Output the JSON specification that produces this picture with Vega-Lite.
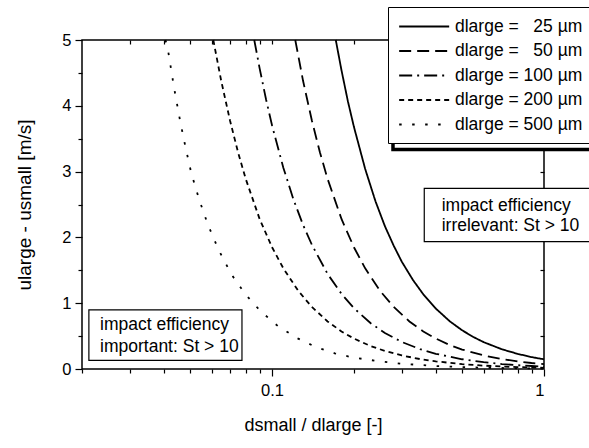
{
  "$schema": "https://vega.github.io/schema/vega-lite/v6.json",
  "width": 462,
  "height": 329,
  "autosize": {"type": "none"},
  "padding": {"left": 82, "top": 40, "right": 45, "bottom": 79},
  "background": "white",
  "config": {
    "font": "Liberation Sans",
    "view": {"stroke": "black", "strokeWidth": 1.5},
    "axis": {
      "grid": false,
      "domain": false,
      "tickColor": "black",
      "tickWidth": 1.2,
      "labelColor": "black",
      "titleColor": "black",
      "labelFont": "Liberation Sans",
      "titleFont": "Liberation Sans",
      "labelFontSize": 16.5,
      "titleFontSize": 18,
      "titleFontWeight": "normal"
    },
    "text": {"font": "Liberation Sans"}
  },
  "datasets": {
    "curves": [
      {"series": "dlarge = \u200725 µm", "x": 0.1715, "u": 5.0},
      {"series": "dlarge = \u200725 µm", "x": 0.18, "u": 4.54},
      {"series": "dlarge = \u200725 µm", "x": 0.19, "u": 4.07},
      {"series": "dlarge = \u200725 µm", "x": 0.2, "u": 3.68},
      {"series": "dlarge = \u200725 µm", "x": 0.22, "u": 3.04},
      {"series": "dlarge = \u200725 µm", "x": 0.24, "u": 2.55},
      {"series": "dlarge = \u200725 µm", "x": 0.26, "u": 2.17},
      {"series": "dlarge = \u200725 µm", "x": 0.28, "u": 1.875},
      {"series": "dlarge = \u200725 µm", "x": 0.3, "u": 1.63},
      {"series": "dlarge = \u200725 µm", "x": 0.33, "u": 1.35},
      {"series": "dlarge = \u200725 µm", "x": 0.36, "u": 1.134},
      {"series": "dlarge = \u200725 µm", "x": 0.4, "u": 0.919},
      {"series": "dlarge = \u200725 µm", "x": 0.45, "u": 0.726},
      {"series": "dlarge = \u200725 µm", "x": 0.5, "u": 0.588},
      {"series": "dlarge = \u200725 µm", "x": 0.55, "u": 0.486},
      {"series": "dlarge = \u200725 µm", "x": 0.6, "u": 0.408},
      {"series": "dlarge = \u200725 µm", "x": 0.7, "u": 0.3},
      {"series": "dlarge = \u200725 µm", "x": 0.8, "u": 0.23},
      {"series": "dlarge = \u200725 µm", "x": 0.9, "u": 0.181},
      {"series": "dlarge = \u200725 µm", "x": 1.0, "u": 0.147},

      {"series": "dlarge = \u200750 µm", "x": 0.1217, "u": 5.0},
      {"series": "dlarge = \u200750 µm", "x": 0.13, "u": 4.38},
      {"series": "dlarge = \u200750 µm", "x": 0.14, "u": 3.78},
      {"series": "dlarge = \u200750 µm", "x": 0.15, "u": 3.29},
      {"series": "dlarge = \u200750 µm", "x": 0.16, "u": 2.89},
      {"series": "dlarge = \u200750 µm", "x": 0.18, "u": 2.28},
      {"series": "dlarge = \u200750 µm", "x": 0.2, "u": 1.85},
      {"series": "dlarge = \u200750 µm", "x": 0.22, "u": 1.53},
      {"series": "dlarge = \u200750 µm", "x": 0.25, "u": 1.184},
      {"series": "dlarge = \u200750 µm", "x": 0.28, "u": 0.944},
      {"series": "dlarge = \u200750 µm", "x": 0.32, "u": 0.723},
      {"series": "dlarge = \u200750 µm", "x": 0.36, "u": 0.571},
      {"series": "dlarge = \u200750 µm", "x": 0.4, "u": 0.4625},
      {"series": "dlarge = \u200750 µm", "x": 0.45, "u": 0.365},
      {"series": "dlarge = \u200750 µm", "x": 0.5, "u": 0.296},
      {"series": "dlarge = \u200750 µm", "x": 0.6, "u": 0.206},
      {"series": "dlarge = \u200750 µm", "x": 0.7, "u": 0.151},
      {"series": "dlarge = \u200750 µm", "x": 0.8, "u": 0.116},
      {"series": "dlarge = \u200750 µm", "x": 0.9, "u": 0.091},
      {"series": "dlarge = \u200750 µm", "x": 1.0, "u": 0.074},

      {"series": "dlarge = 100 µm", "x": 0.086, "u": 5.0},
      {"series": "dlarge = 100 µm", "x": 0.09, "u": 4.57},
      {"series": "dlarge = 100 µm", "x": 0.095, "u": 4.1},
      {"series": "dlarge = 100 µm", "x": 0.1, "u": 3.7},
      {"series": "dlarge = 100 µm", "x": 0.11, "u": 3.06},
      {"series": "dlarge = 100 µm", "x": 0.12, "u": 2.57},
      {"series": "dlarge = 100 µm", "x": 0.13, "u": 2.19},
      {"series": "dlarge = 100 µm", "x": 0.14, "u": 1.89},
      {"series": "dlarge = 100 µm", "x": 0.16, "u": 1.445},
      {"series": "dlarge = 100 µm", "x": 0.18, "u": 1.142},
      {"series": "dlarge = 100 µm", "x": 0.2, "u": 0.925},
      {"series": "dlarge = 100 µm", "x": 0.23, "u": 0.699},
      {"series": "dlarge = 100 µm", "x": 0.26, "u": 0.547},
      {"series": "dlarge = 100 µm", "x": 0.3, "u": 0.411},
      {"series": "dlarge = 100 µm", "x": 0.35, "u": 0.302},
      {"series": "dlarge = 100 µm", "x": 0.4, "u": 0.231},
      {"series": "dlarge = 100 µm", "x": 0.5, "u": 0.148},
      {"series": "dlarge = 100 µm", "x": 0.6, "u": 0.103},
      {"series": "dlarge = 100 µm", "x": 0.7, "u": 0.0755},
      {"series": "dlarge = 100 µm", "x": 0.8, "u": 0.0578},
      {"series": "dlarge = 100 µm", "x": 0.9, "u": 0.0457},
      {"series": "dlarge = 100 µm", "x": 1.0, "u": 0.037},

      {"series": "dlarge = 200 µm", "x": 0.0608, "u": 5.0},
      {"series": "dlarge = 200 µm", "x": 0.065, "u": 4.38},
      {"series": "dlarge = 200 µm", "x": 0.07, "u": 3.78},
      {"series": "dlarge = 200 µm", "x": 0.075, "u": 3.29},
      {"series": "dlarge = 200 µm", "x": 0.08, "u": 2.89},
      {"series": "dlarge = 200 µm", "x": 0.09, "u": 2.28},
      {"series": "dlarge = 200 µm", "x": 0.1, "u": 1.85},
      {"series": "dlarge = 200 µm", "x": 0.11, "u": 1.53},
      {"series": "dlarge = 200 µm", "x": 0.125, "u": 1.184},
      {"series": "dlarge = 200 µm", "x": 0.14, "u": 0.944},
      {"series": "dlarge = 200 µm", "x": 0.16, "u": 0.723},
      {"series": "dlarge = 200 µm", "x": 0.18, "u": 0.571},
      {"series": "dlarge = 200 µm", "x": 0.2, "u": 0.4625},
      {"series": "dlarge = 200 µm", "x": 0.23, "u": 0.35},
      {"series": "dlarge = 200 µm", "x": 0.26, "u": 0.274},
      {"series": "dlarge = 200 µm", "x": 0.3, "u": 0.206},
      {"series": "dlarge = 200 µm", "x": 0.35, "u": 0.151},
      {"series": "dlarge = 200 µm", "x": 0.4, "u": 0.116},
      {"series": "dlarge = 200 µm", "x": 0.5, "u": 0.074},
      {"series": "dlarge = 200 µm", "x": 0.6, "u": 0.051},
      {"series": "dlarge = 200 µm", "x": 0.7, "u": 0.038},
      {"series": "dlarge = 200 µm", "x": 0.8, "u": 0.029},
      {"series": "dlarge = 200 µm", "x": 0.9, "u": 0.023},
      {"series": "dlarge = 200 µm", "x": 1.0, "u": 0.0185},

      {"series": "dlarge = 500 µm", "x": 0.0405, "u": 5.0},
      {"series": "dlarge = 500 µm", "x": 0.0412, "u": 4.91},
      {"series": "dlarge = 500 µm", "x": 0.0435, "u": 4.3},
      {"series": "dlarge = 500 µm", "x": 0.046, "u": 3.75},
      {"series": "dlarge = 500 µm", "x": 0.048, "u": 3.38},
      {"series": "dlarge = 500 µm", "x": 0.0505, "u": 2.97},
      {"series": "dlarge = 500 µm", "x": 0.054, "u": 2.57},
      {"series": "dlarge = 500 µm", "x": 0.058, "u": 2.2},
      {"series": "dlarge = 500 µm", "x": 0.0636, "u": 1.81},
      {"series": "dlarge = 500 µm", "x": 0.0708, "u": 1.44},
      {"series": "dlarge = 500 µm", "x": 0.08, "u": 1.13},
      {"series": "dlarge = 500 µm", "x": 0.0911, "u": 0.871},
      {"series": "dlarge = 500 µm", "x": 0.105, "u": 0.653},
      {"series": "dlarge = 500 µm", "x": 0.124, "u": 0.466},
      {"series": "dlarge = 500 µm", "x": 0.145, "u": 0.334},
      {"series": "dlarge = 500 µm", "x": 0.17, "u": 0.238},
      {"series": "dlarge = 500 µm", "x": 0.2, "u": 0.172},
      {"series": "dlarge = 500 µm", "x": 0.25, "u": 0.115},
      {"series": "dlarge = 500 µm", "x": 0.3, "u": 0.08},
      {"series": "dlarge = 500 µm", "x": 0.4, "u": 0.045},
      {"series": "dlarge = 500 µm", "x": 0.5, "u": 0.029},
      {"series": "dlarge = 500 µm", "x": 0.6, "u": 0.02},
      {"series": "dlarge = 500 µm", "x": 0.8, "u": 0.0113},
      {"series": "dlarge = 500 µm", "x": 1.0, "u": 0.0072}
    ]
  },
  "layer": [
    {
      "data": {"values": [{}]},
      "mark": {"type": "rect", "fill": "white", "stroke": "black", "strokeWidth": 3.5},
      "encoding": {
        "x": {"datum": 0.2784, "type": "quantitative", "axis": null},
        "x2": {"datum": 2.5},
        "y": {"datum": 5.3, "type": "quantitative", "axis": null},
        "y2": {"datum": 3.336}
      }
    },
    {
      "data": {"name": "curves"},
      "mark": {"type": "line", "color": "black", "strokeWidth": 1.8},
      "encoding": {
        "x": {
          "field": "x",
          "type": "quantitative",
          "scale": {"type": "log", "domain": [0.02, 1], "nice": false},
          "axis": {
            "orient": "bottom",
            "values": [0.1, 1],
            "format": "~g",
            "tickSize": 7,
            "labelPadding": 6,
            "title": "dsmall / dlarge  [-]",
            "titlePadding": 18
          }
        },
        "y": {
          "field": "u",
          "type": "quantitative",
          "scale": {"domain": [0, 5], "nice": false, "zero": false},
          "axis": {
            "orient": "left",
            "values": [0, 1, 2, 3, 4, 5],
            "format": "d",
            "tickSize": 7,
            "labelPadding": 4,
            "title": "ularge - usmall  [m/s]",
            "titleFontSize": 19,
            "titlePadding": 27
          }
        },
        "strokeDash": {
          "field": "series",
          "type": "nominal",
          "scale": {
            "domain": ["dlarge = \u200725 µm", "dlarge = \u200750 µm", "dlarge = 100 µm", "dlarge = 200 µm", "dlarge = 500 µm"],
            "range": [[1, 0], [12, 6], [13, 5, 2, 5], [5, 4], [2.5, 10.5]]
          },
          "legend": {
            "title": null,
            "orient": "none",
            "legendX": 306,
            "legendY": -33,
            "padding": 10,
            "fillColor": "white",
            "strokeColor": "black",
            "symbolType": "M-1,0H5",
            "symbolSize": 278,
            "symbolStrokeWidth": 1.8,
            "symbolStrokeColor": "black",
            "labelFontSize": 17.5,
            "labelColor": "black",
            "labelFont": "Liberation Sans",
            "labelOffset": 38,
            "labelLimit": 300,
            "rowPadding": 6.5
          }
        }
      }
    },
    {
      "data": {"name": "curves"},
      "mark": {"type": "point", "opacity": 0},
      "encoding": {
        "x": {
          "field": "x",
          "type": "quantitative",
          "axis": {
            "orient": "bottom",
            "values": [0.02, 0.03, 0.04, 0.05, 0.06, 0.07, 0.08, 0.09, 0.2, 0.3, 0.4, 0.5, 0.6, 0.7, 0.8, 0.9],
            "tickSize": 4,
            "labels": false,
            "title": null
          }
        },
        "y": {
          "field": "u",
          "type": "quantitative",
          "axis": {
            "orient": "left",
            "values": [0.5, 1.5, 2.5, 3.5, 4.5],
            "tickSize": 4,
            "labels": false,
            "title": null
          }
        }
      }
    },
    {
      "data": {"name": "curves"},
      "mark": {"type": "point", "opacity": 0},
      "encoding": {
        "x": {
          "field": "x",
          "type": "quantitative",
          "axis": {
            "orient": "top",
            "values": [0.03, 0.04, 0.05, 0.06, 0.07, 0.08, 0.09, 0.1, 0.2, 0.3, 0.4, 0.5, 0.6, 0.7, 0.8, 0.9],
            "tickSize": -4,
            "labels": false,
            "title": null
          }
        },
        "y": {
          "field": "u",
          "type": "quantitative",
          "axis": {
            "orient": "right",
            "values": [0.5, 1, 1.5, 2, 2.5, 3, 3.5, 4, 4.5],
            "tickSize": -4,
            "labels": false,
            "title": null
          }
        }
      }
    },
    {
      "data": {"values": [{}]},
      "mark": {"type": "rect", "fill": "white", "stroke": "black", "strokeWidth": 1.2},
      "encoding": {
        "x": {"datum": 0.0212, "type": "quantitative", "axis": null},
        "x2": {"datum": 0.0775},
        "y": {"datum": 0.9, "type": "quantitative", "axis": null},
        "y2": {"datum": 0.13}
      }
    },
    {
      "data": {"values": [{}]},
      "mark": {"type": "rect", "fill": "white", "stroke": "black", "strokeWidth": 1.2},
      "encoding": {
        "x": {"datum": 0.3628, "type": "quantitative", "axis": null},
        "x2": {"datum": 2.5},
        "y": {"datum": 2.746, "type": "quantitative", "axis": null},
        "y2": {"datum": 1.935}
      }
    },
    {
      "data": {"values": [{}]},
      "mark": {
        "type": "text",
        "align": "left",
        "baseline": "middle",
        "fontSize": 17.5,
        "lineHeight": 22,
        "color": "black",
        "text": ["impact efficiency", "important: St > 10"]
      },
      "encoding": {
        "x": {"datum": 0.0233, "type": "quantitative", "axis": null},
        "y": {"datum": 0.669, "type": "quantitative", "axis": null}
      }
    },
    {
      "data": {"values": [{}]},
      "mark": {
        "type": "text",
        "align": "left",
        "baseline": "middle",
        "fontSize": 17.5,
        "lineHeight": 20,
        "color": "black",
        "text": ["impact efficiency", "irrelevant: St > 10"]
      },
      "encoding": {
        "x": {"datum": 0.4204, "type": "quantitative", "axis": null},
        "y": {"datum": 2.47, "type": "quantitative", "axis": null}
      }
    }
  ],
  "resolve": {"axis": {"x": "independent", "y": "independent"}}
}
